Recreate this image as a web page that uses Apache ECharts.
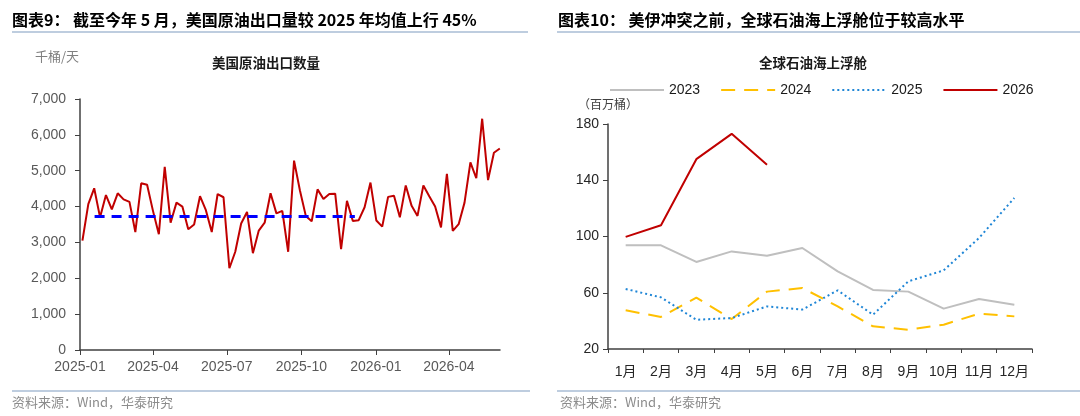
<!DOCTYPE html>
<html>
<head>
<meta charset="utf-8">
<script src="https://cdn.jsdelivr.net/npm/echarts@6/dist/echarts.min.js"></script>
<style>
  html, body { margin: 0; padding: 0; background: #fff; }
  #main { width: 1080px; height: 416px; }
</style>
</head>
<body>
<div id="main"></div>
<script>
// 美国原油出口数量（千桶/天），自 2025-01 初起的逐期读数
var exportValues = [
    3050, 4070, 4510, 3700, 4320, 3920, 4370, 4200, 4130, 3290,
    4650, 4610, 3880, 3230, 5110, 3550, 4110, 4000, 3370, 3500,
    4290, 3900, 3290, 4350, 4260, 2280, 2740, 3530, 3850, 2700,
    3330, 3550, 4370, 3810, 3880, 2740, 5280, 4450, 3740, 3590,
    4480, 4210, 4350, 4360, 2810, 4160, 3600, 3620, 3980, 4670,
    3610, 3440, 4270, 4300, 3700, 4590, 4020, 3740, 4590, 4290,
    4000, 3420, 4910, 3320, 3510, 4110, 5230, 4790, 6450, 4740,
    5500, 5620
];
var exportStart = '2025-01-04';
var exportStepDays = 7.25;
var avgValue = 3720;               // 2025 年均值
var avgRange = ['2025-01-19', '2025-12-06'];
var leftTicks = ['2025-01-01', '2025-04-01', '2025-07-01', '2025-10-01', '2026-01-01', '2026-04-01'];

// 全球石油海上浮舱（百万桶）
var months = ['1月', '2月', '3月', '4月', '5月', '6月', '7月', '8月', '9月', '10月', '11月', '12月'];
var float2023 = [93.7, 93.7, 81.9, 89.4, 86.3, 91.8, 75.2, 62.0, 60.8, 48.7, 55.6, 51.5];
var float2024 = [47.5, 42.8, 56.5, 41.3, 60.8, 63.4, 50.3, 36.1, 33.7, 37.3, 45.1, 43.2];
var float2025 = [62.7, 56.7, 40.8, 42.0, 50.3, 48.0, 61.7, 44.4, 68.1, 75.9, 98.9, 127.4];
var float2026 = [99.7, 108.0, 155.0, 173.0, 151.0];

function toTime(s) {
    var p = s.split('-');
    return new Date(+p[0], +p[1] - 1, +p[2]).getTime();
}
function pad(n) { return n < 10 ? '0' + n : '' + n; }

var DAY = 24 * 3600 * 1000;
var t0 = toTime(exportStart);
var exportData = exportValues.map(function (v, i) {
    return [t0 + i * exportStepDays * DAY, v];
});
var avgData = avgRange.map(function (d) { return [toTime(d), avgValue]; });
var tickTimes = leftTicks.map(toTime);

var cjk = '"Noto Sans CJK SC", "Liberation Sans", sans-serif';
var latin = '"Liberation Sans", Arial, "Noto Sans CJK SC", sans-serif';
var ruleColor = '#a9bcd5';

var chart = echarts.init(document.getElementById('main'));
var option = {
    animation: false,
    textStyle: { fontFamily: latin },
    title: [
        { text: '美国原油出口数量', left: 261, top: 51, textAlign: 'center',
          textStyle: { fontFamily: cjk, fontSize: 13.5, fontWeight: 'bold', color: '#1a1a1a' } },
        { text: '全球石油海上浮舱', left: 808, top: 51, textAlign: 'center',
          textStyle: { fontFamily: cjk, fontSize: 13.5, fontWeight: 'bold', color: '#1a1a1a' } }
    ],
    graphic: [
        { type: 'text', left: 12, top: 12,
          style: { text: '图表9： 截至今年 5 月，美国原油出口量较 2025 年均值上行 45%', fill: '#000',
                   font: 'bold 16px ' + cjk } },
        { type: 'text', left: 558, top: 12,
          style: { text: '图表10： 美伊冲突之前，全球石油海上浮舱位于较高水平', fill: '#000',
                   font: 'bold 16px ' + cjk } },
        { type: 'line', shape: { x1: 12, y1: 32, x2: 528, y2: 32 }, style: { stroke: ruleColor, lineWidth: 1.5 } },
        { type: 'line', shape: { x1: 557, y1: 32, x2: 1080, y2: 32 }, style: { stroke: ruleColor, lineWidth: 1.5 } },
        { type: 'line', shape: { x1: 12, y1: 391, x2: 530, y2: 391 }, style: { stroke: ruleColor, lineWidth: 1.5 } },
        { type: 'line', shape: { x1: 557, y1: 391, x2: 1080, y2: 391 }, style: { stroke: ruleColor, lineWidth: 1.5 } },
        { type: 'text', left: 12, top: 396,
          style: { text: '资料来源：Wind，华泰研究', fill: '#8c8c8c', font: '13px ' + cjk } },
        { type: 'text', left: 560, top: 396,
          style: { text: '资料来源：Wind，华泰研究', fill: '#8c8c8c', font: '13px ' + cjk } },
        { type: 'text', left: 35, top: 50,
          style: { text: '千桶/天', fill: '#7f7f7f', font: '13px ' + cjk } },
        { type: 'text', left: 578, top: 98,
          style: { text: '（百万桶）', fill: '#404040', font: '12px ' + cjk } }
    ],
    legend: {
        left: 604, top: 78,
        itemWidth: 54, itemHeight: 14, itemGap: 20,
        itemStyle: { opacity: 0 },
        textStyle: { fontSize: 14, color: '#1a1a1a', fontFamily: latin },
        data: ['2023', '2024', '2025', '2026']
    },
    grid: [
        { left: 80, top: 99, width: 420, height: 251 },
        { left: 608, top: 124, width: 424, height: 225 }
    ],
    xAxis: [
        {
            type: 'value', gridIndex: 0,
            min: toTime('2025-01-01'), max: toTime('2026-06-03'),
            splitLine: { show: false },
            axisLine: { lineStyle: { color: '#404040', width: 1.5 } },
            axisTick: { show: true, length: 5, lineStyle: { color: '#404040' }, customValues: tickTimes },
            axisLabel: {
                fontSize: 14, color: '#595959', margin: 10, customValues: tickTimes,
                formatter: function (v) {
                    var d = new Date(v);
                    return d.getFullYear() + '-' + pad(d.getMonth() + 1);
                }
            }
        },
        {
            type: 'category', gridIndex: 1, data: months, boundaryGap: true,
            axisLine: { lineStyle: { color: '#404040', width: 1.5 } },
            axisTick: { show: true, length: 4, interval: 0, lineStyle: { color: '#404040' } },
            axisLabel: { fontSize: 14, color: '#262626', margin: 16, interval: 0, fontFamily: latin }
        }
    ],
    yAxis: [
        {
            type: 'value', gridIndex: 0, min: 0, max: 7000, interval: 1000,
            splitLine: { show: false },
            axisLine: { show: true, lineStyle: { color: '#404040', width: 1.5 } },
            axisTick: { show: true, length: 5, lineStyle: { color: '#404040' } },
            axisLabel: {
                fontSize: 14, color: '#595959', margin: 14,
                formatter: function (v) { return v.toLocaleString('en-US'); }
            }
        },
        {
            type: 'value', gridIndex: 1, min: 20, max: 180, interval: 40,
            splitLine: { show: false },
            axisLine: { show: true, lineStyle: { color: '#404040', width: 1.5 } },
            axisTick: { show: true, length: 5, lineStyle: { color: '#404040' } },
            axisLabel: { fontSize: 14, color: '#262626', margin: 9 }
        }
    ],
    series: [
        {
            name: '美国原油出口', type: 'line', xAxisIndex: 0, yAxisIndex: 0,
            data: exportData, symbol: 'none',
            lineStyle: { color: '#c00000', width: 2 }
        },
        {
            name: '2025年均值', type: 'line', xAxisIndex: 0, yAxisIndex: 0,
            data: avgData, symbol: 'none',
            lineStyle: { color: '#0000ff', width: 3, type: [10, 7] }
        },
        {
            name: '2023', type: 'line', xAxisIndex: 1, yAxisIndex: 1,
            data: float2023, symbol: 'none', itemStyle: { color: '#bfbfbf' },
            lineStyle: { color: '#bfbfbf', width: 2 }
        },
        {
            name: '2024', type: 'line', xAxisIndex: 1, yAxisIndex: 1,
            data: float2024, symbol: 'none', itemStyle: { color: '#ffc000' },
            lineStyle: { color: '#ffc000', width: 2, type: [14, 9] }
        },
        {
            name: '2025', type: 'line', xAxisIndex: 1, yAxisIndex: 1,
            data: float2025, symbol: 'none', itemStyle: { color: '#1f86d6' },
            lineStyle: { color: '#1f86d6', width: 2, type: [2, 3] }
        },
        {
            name: '2026', type: 'line', xAxisIndex: 1, yAxisIndex: 1,
            data: float2026, symbol: 'none', itemStyle: { color: '#c00000' },
            lineStyle: { color: '#c00000', width: 2 }
        }
    ]
};
chart.setOption(option);
</script>
</body>
</html>
